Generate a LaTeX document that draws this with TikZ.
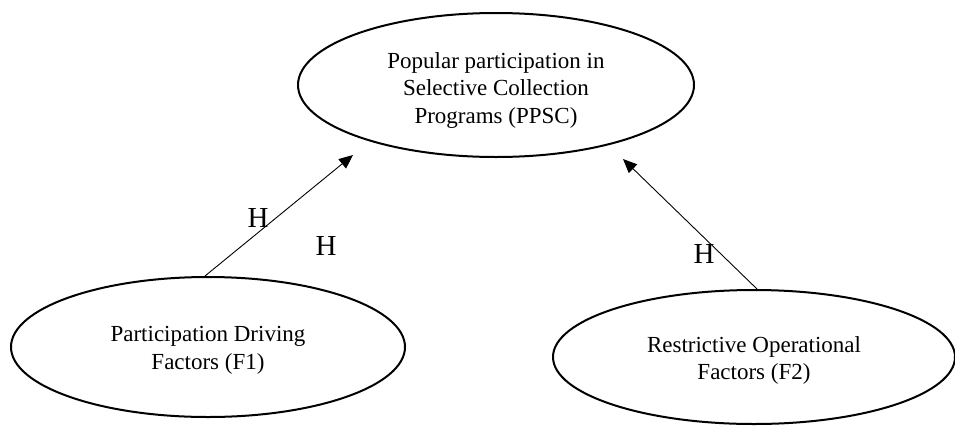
\documentclass[tikz,border=0pt]{standalone}
\usepackage{fontspec}
\setmainfont{Liberation Serif}
\usetikzlibrary{shapes.geometric,arrows.meta}
\newcommand{\ovaltext}[2][0pt]{\raisebox{#1}[0pt][0pt]{\begin{tabular}{@{}c@{}}#2\end{tabular}}}
\tikzset{
  oval/.style={draw, line width=2pt, ellipse, inner sep=0pt,
    font=\fontsize{23}{27.5}\selectfont},
  link/.style={line width=0.9pt, -{Triangle[length=14pt,width=12pt]}},
  hlabel/.style={font=\fontsize{29}{30}\selectfont, inner sep=0pt}
}
\begin{document}
\begin{tikzpicture}[x=1pt,y=-1pt]
\useasboundingbox (0,0) rectangle (955,426);
\node[oval, minimum width=396pt, minimum height=144pt] (ppsc) at (496,85)
  {\ovaltext[-11.5pt]{Popular participation in\\Selective Collection\\Programs (PPSC)}};
\node[oval, minimum width=394pt, minimum height=140pt] (f1) at (208,347)
  {\ovaltext[-9.25pt]{Participation Driving\\Factors (F1)}};
\node[oval, minimum width=402pt, minimum height=134pt] (f2) at (754,357)
  {\ovaltext[-9.75pt]{Restrictive Operational\\Factors (F2)}};
\coordinate (t1) at (353,155);
\coordinate (t2) at (623,159);
\draw[link] ([xshift=-3pt]f1.north) -- (t1);
\draw[link] ([xshift=3pt]f2.north) -- (t2);
\node[hlabel] (h1) at (258,218) {H};
\node[hlabel] (h2) at (326,246) {H};
\node[hlabel] (h3) at (704,254) {H};
\end{tikzpicture}
\end{document}
